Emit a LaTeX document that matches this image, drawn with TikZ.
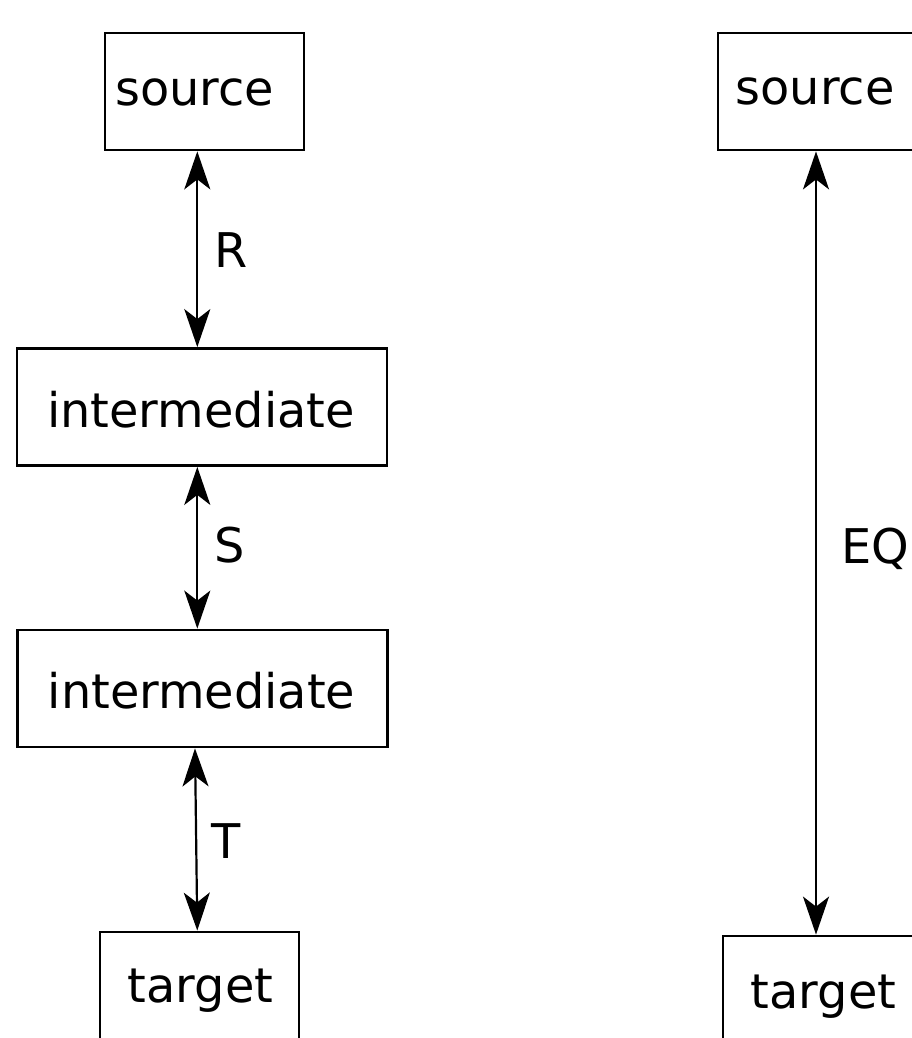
\documentclass[tikz,border=0pt]{standalone}
\usepackage{fontspec}
\setmainfont{DejaVu Sans}
\usetikzlibrary{arrows.meta}
\tikzset{
  box/.style={draw=black, line width=2.8pt, minimum width=199pt, minimum height=117pt, inner sep=0pt},
  wbox/.style={box, minimum width=370pt},
  txt/.style={anchor=base, inner sep=0pt, font=\fontsize{47.8}{57}\selectfont},
  dbl/.style={line width=2.2pt, {Stealth[length=38pt,width=26pt,inset=10pt]}-{Stealth[length=38pt,width=26pt,inset=10pt]}},
}
\begin{document}
\begin{tikzpicture}[x=1pt,y=-1pt]
\useasboundingbox (0,0) rectangle (912,1038);
\clip (0,0) rectangle (912,1038);
% left column boxes
\node[box] (src1) at (204.5,91.5) {};
\node[wbox] (int1) at (202,407) {};
\node[wbox] (int2) at (202.5,688.5) {};
\node[box] (tgt1) at (199.5,990.5) {};
% right column boxes
\node[box] (src2) at (817.5,91.5) {};
\node[box] (tgt2) at (822.5,994.5) {};
% texts
\node[txt] (tsrc1) at (194.5,106) {source};
\node[txt] (tint1) at (201,427) {intermediate};
\node[txt] (tint2) at (201.5,708) {intermediate};
\node[txt] (ttgt1) at (200.5,1002) {target};
\node[txt] (tsrc2) at (815,105) {source};
\node[txt] (ttgt2) at (823.5,1008) {target};
% axis coordinates
\coordinate (xR) at (197.3,0);
\coordinate (xTa) at (195,0);
\coordinate (xTb) at (197.3,0);
\coordinate (xE) at (816,0);
% connectors
\draw[dbl] (src1.south -| xR) -- (int1.north -| xR);
\draw[dbl] (int1.south -| xR) -- (int2.north -| xR);
\draw[dbl] (int2.south -| xTa) -- (tgt1.north -| xTb);
\draw[dbl] (src2.south -| xE) -- (tgt2.north -| xE);
% labels
\node[txt] (lR) at (231.5,267) {R};
\node[txt] (lS) at (230,562) {S};
\node[txt] (lT) at (226.5,858) {T};
\node[txt] (lEQ) at (875,563) {EQ};
\end{tikzpicture}
\end{document}
